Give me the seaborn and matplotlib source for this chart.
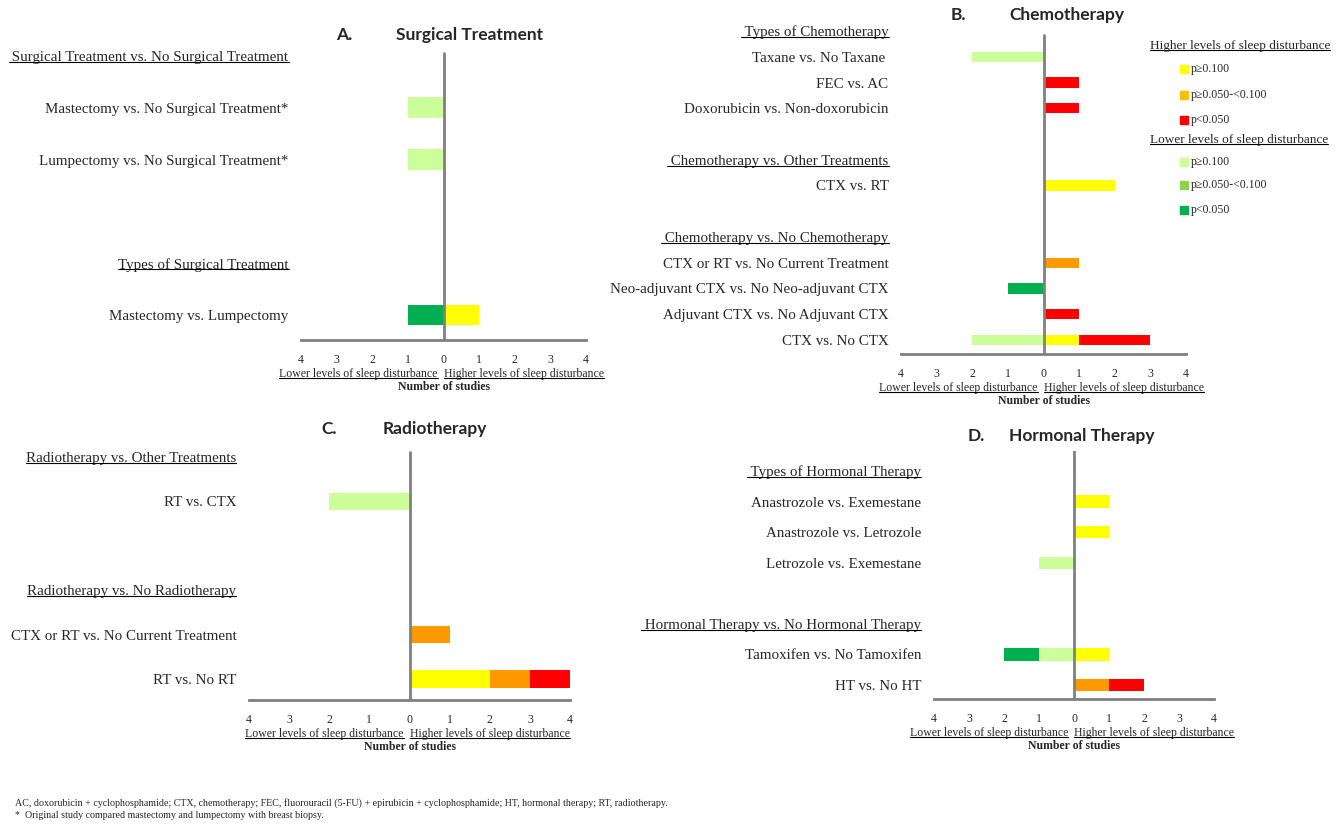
import pandas as pd
import matplotlib
matplotlib.use('Agg')
import matplotlib.pyplot as plt
from matplotlib.lines import Line2D
from matplotlib.patches import Rectangle
import seaborn as sns

# counts per row: [lower p<0.050, lower p0.050-0.100, lower p>=0.100,
#                  higher p>=0.100, higher p0.050-0.100, higher p<0.050]
a_labels = [" Surgical Treatment vs. No Surgical Treatment", "Mastectomy vs. No Surgical Treatment*",
            "Lumpectomy vs. No Surgical Treatment*", "", "Types of Surgical Treatment",
            "Mastectomy vs. Lumpectomy"]
a_headers = [0, 4]
a_counts = [[0, 0, 0, 0, 0, 0], [0, 0, 1, 0, 0, 0], [0, 0, 1, 0, 0, 0],
            [0, 0, 0, 0, 0, 0], [0, 0, 0, 0, 0, 0], [1, 0, 0, 1, 0, 0]]

b_labels = [" Types of Chemotherapy", "Taxane vs. No Taxane ", "FEC vs. AC",
            "Doxorubicin vs. Non-doxorubicin", "", " Chemotherapy vs. Other Treatments", "CTX vs. RT", "",
            " Chemotherapy vs. No Chemotherapy", "CTX or RT vs. No Current Treatment",
            "Neo-adjuvant CTX vs. No Neo-adjuvant CTX", "Adjuvant CTX vs. No Adjuvant CTX", "CTX vs. No CTX"]
b_headers = [0, 5, 8]
b_counts = [[0, 0, 0, 0, 0, 0], [0, 0, 2, 0, 0, 0], [0, 0, 0, 0, 0, 1], [0, 0, 0, 0, 0, 1],
            [0, 0, 0, 0, 0, 0], [0, 0, 0, 0, 0, 0], [0, 0, 0, 2, 0, 0], [0, 0, 0, 0, 0, 0],
            [0, 0, 0, 0, 0, 0], [0, 0, 0, 0, 1, 0], [1, 0, 0, 0, 0, 0], [0, 0, 0, 0, 0, 1],
            [0, 0, 2, 1, 0, 2]]

c_labels = ["Radiotherapy vs. Other Treatments", "RT vs. CTX", "", "Radiotherapy vs. No Radiotherapy",
            "CTX or RT vs. No Current Treatment", "RT vs. No RT"]
c_headers = [0, 3]
c_counts = [[0, 0, 0, 0, 0, 0], [0, 0, 2, 0, 0, 0], [0, 0, 0, 0, 0, 0],
            [0, 0, 0, 0, 0, 0], [0, 0, 0, 0, 1, 0], [0, 0, 0, 2, 1, 1]]

d_labels = [" Types of Hormonal Therapy", "Anastrozole vs. Exemestane", "Anastrozole vs. Letrozole",
            "Letrozole vs. Exemestane", "", " Hormonal Therapy vs. No Hormonal Therapy",
            "Tamoxifen vs. No Tamoxifen", "HT vs. No HT"]
d_headers = [0, 5]
d_counts = [[0, 0, 0, 0, 0, 0], [0, 0, 0, 1, 0, 0], [0, 0, 0, 1, 0, 0], [0, 0, 1, 0, 0, 0],
            [0, 0, 0, 0, 0, 0], [0, 0, 0, 0, 0, 0], [1, 0, 1, 1, 0, 0], [0, 0, 0, 0, 1, 1]]

bar_colors = {"lo_sig": "#00B050", "lo_trend": "#92D050", "lo_ns": "#CCFF99",
              "hi_ns": "#FFFF00", "hi_trend": "#FF9900", "hi_sig": "#FF0000"}
# outermost first so inner segments are drawn on top
draw_order = ["lo_sig", "lo_trend", "lo_ns", "hi_sig", "hi_trend", "hi_ns"]

legend_labels = ["p\u22650.100", "p\u22650.050-<0.100", "p<0.050"]
legend_hi_colors = ["#FFFF00", "#FFC000", "#FF0000"]
legend_lo_colors = ["#CCFF99", "#92D050", "#00B050"]

W, H = 1342, 824
GRAY = "#808080"
SERIF = ["Liberation Serif", "DejaVu Serif"]

sns.set_style("white")
plt.rcParams['font.family'] = SERIF

fig = plt.figure(figsize=(W / 100, H / 100), dpi=100)


def stacked(counts):
    rows = []
    for i, c in enumerate(counts):
        neg = [c[2], c[2] + c[1], c[2] + c[1] + c[0]]
        pos = [c[3], c[3] + c[4], c[3] + c[4] + c[5]]
        for lev, n, cum in zip(["lo_ns", "lo_trend", "lo_sig"], c[2::-1], neg):
            if n > 0:
                rows.append({"row": i, "x": -cum, "level": lev})
        for lev, n, cum in zip(["hi_ns", "hi_trend", "hi_sig"], c[3:], pos):
            if n > 0:
                rows.append({"row": i, "x": cum, "level": lev})
    return pd.DataFrame(rows)


# panel geometry in pixels: left, right, line top, axis y, first row y, row step
panels = [
    (a_labels, a_headers, a_counts, "A.", "Surgical Treatment", (301, 586, 53, 340, 56, 51.8), (336, 396, 35)),
    (b_labels, b_headers, b_counts, "B.", "Chemotherapy", (901, 1186, 35, 354, 31, 25.75), (951, 1009, 15)),
    (c_labels, c_headers, c_counts, "C.", "Radiotherapy", (249, 570, 452, 700, 457, 44.4), (321, 383, 429)),
    (d_labels, d_headers, d_counts, "D.", "Hormonal Therapy", (934, 1214, 451, 699, 471, 30.57), (968, 1009, 436)),
]

underline_texts = []
for labels, headers, counts, letter, title, geo, tpos in panels:
    left, right, line_top, bottom, y0, step = geo
    top = min(line_top, y0 - 10)
    ax = fig.add_axes([left / W, 1 - bottom / H, (right - left) / W, (bottom - top) / H])
    df = stacked(counts)
    sns.barplot(data=df, x="x", y="row", hue="level", hue_order=draw_order, palette=bar_colors,
                orient="h", native_scale=True, dodge=False, width=0.4, saturation=1,
                errorbar=None, linewidth=0, legend=False, ax=ax)
    ax.axvline(0, ymin=0, ymax=(bottom - line_top) / (bottom - top), color=GRAY, lw=2, zorder=5)
    for s in ["top", "right", "left"]:
        ax.spines[s].set_visible(False)
    ax.spines["bottom"].set_color(GRAY)
    ax.spines["bottom"].set_linewidth(2)
    ax.set_xticks(range(-4, 5))
    ax.set_xticklabels([str(abs(v)) for v in range(-4, 5)], fontsize=8.5)
    ax.tick_params(axis="x", direction="out", length=5, width=1, color=GRAY, pad=5)
    ax.set_yticks(range(len(labels)))
    ax.set_yticklabels(labels, fontsize=10.8)
    ax.tick_params(axis="y", length=0, pad=9)
    ax.set_xlim(-4, 4)
    ax.set_ylim((bottom - y0) / step, (top - y0) / step)
    ax.set_xlabel("")
    ax.set_ylabel("")
    for i, tl in enumerate(ax.get_yticklabels()):
        if i in headers:
            underline_texts.append(tl)
    t1 = ax.annotate("Lower levels of sleep disturbance", xy=(0, 0), xycoords=("data", "axes fraction"),
                     xytext=(-6, -34), textcoords="offset pixels", ha="right", va="center", fontsize=8.5)
    t2 = ax.annotate("Higher levels of sleep disturbance", xy=(0, 0), xycoords=("data", "axes fraction"),
                     xytext=(0, -34), textcoords="offset pixels", ha="left", va="center", fontsize=8.5)
    underline_texts += [t1, t2]
    ax.annotate("Number of studies", xy=(0, 0), xycoords=("data", "axes fraction"),
                xytext=(0, -47), textcoords="offset pixels", ha="center", va="center",
                fontsize=8.5, fontweight="bold")
    fig.text(tpos[0] / W, 1 - tpos[2] / H, letter, fontsize=12.5, fontweight="bold",
             family="Lato", va="center", ha="left")
    fig.text(tpos[1] / W, 1 - tpos[2] / H, title, fontsize=12.5, fontweight="bold",
             family="Lato", va="center", ha="left")

# legend
for header, hy, colors, ys in [("Higher levels of sleep disturbance", 46, legend_hi_colors, [69, 95, 120]),
                               ("Lower levels of sleep disturbance", 140, legend_lo_colors, [162, 185, 210])]:
    t = fig.text(1150 / W, 1 - hy / H, header, fontsize=9.5, va="center", ha="left")
    underline_texts.append(t)
    for col, lab, yy in zip(colors, legend_labels, ys):
        fig.patches.append(Rectangle((1180 / W, 1 - (yy + 4) / H), 8 / W, 8 / H, color=col,
                                     transform=fig.transFigure, figure=fig))
        fig.text(1191 / W, 1 - yy / H, lab, fontsize=8.5, va="center", ha="left")

fig.text(15 / W, 1 - 803 / H, "AC, doxorubicin + cyclophosphamide; CTX, chemotherapy; FEC, fluorouracil (5-FU) + "
         "epirubicin + cyclophosphamide; HT, hormonal therapy; RT, radiotherapy.", fontsize=7.2, va="center")
fig.text(15 / W, 1 - 815 / H, "*  Original study compared mastectomy and lumpectomy with breast biopsy.",
         fontsize=7.2, va="center")

# underline headers
fig.canvas.draw()
renderer = fig.canvas.get_renderer()
for t in underline_texts:
    bb = t.get_window_extent(renderer)
    yline = bb.y0 + 0.17 * bb.height
    fig.add_artist(Line2D([bb.x0 / W, bb.x1 / W], [yline / H, yline / H], color="black", lw=0.8,
                          transform=fig.transFigure))

fig.savefig("out.png", dpi=100)
